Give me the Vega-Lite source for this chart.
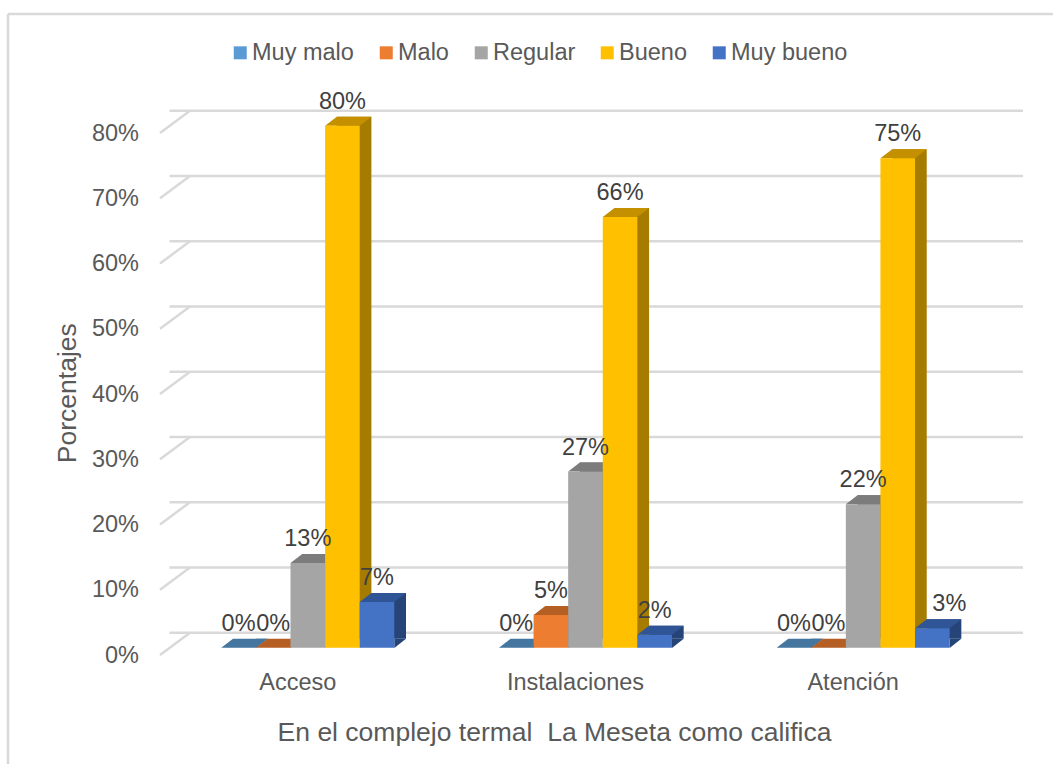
{
"$schema":"https://vega.github.io/schema/vega-lite/v6.json",
"width":833,"height":522,
"autosize":{"type":"none"},
"padding":{"left":169.5,"top":125.7,"right":50.5,"bottom":116.3},
"background":"#ffffff",
"view":{"stroke":null},
"config":{"font":"Liberation Sans"},
"datasets":{
"bars":[
{"grupo":"Acceso","serie":"Muy malo","valor":0},
{"grupo":"Acceso","serie":"Malo","valor":0},
{"grupo":"Acceso","serie":"Regular","valor":13},
{"grupo":"Acceso","serie":"Bueno","valor":80},
{"grupo":"Acceso","serie":"Muy bueno","valor":7},
{"grupo":"Instalaciones","serie":"Muy malo","valor":0},
{"grupo":"Instalaciones","serie":"Malo","valor":5},
{"grupo":"Instalaciones","serie":"Regular","valor":27},
{"grupo":"Instalaciones","serie":"Bueno","valor":66},
{"grupo":"Instalaciones","serie":"Muy bueno","valor":2},
{"grupo":"Atención","serie":"Muy malo","valor":0},
{"grupo":"Atención","serie":"Malo","valor":0},
{"grupo":"Atención","serie":"Regular","valor":22},
{"grupo":"Atención","serie":"Bueno","valor":75},
{"grupo":"Atención","serie":"Muy bueno","valor":3}
],
"ticks":[{"t":0},{"t":10},{"t":20},{"t":30},{"t":40},{"t":50},{"t":60},{"t":70},{"t":80}]
},
"layer":[
{"data":{"values":[{"marco":1}]},"mark":{"type":"rule","stroke":"#d9d9d9","strokeWidth":2.5},
 "encoding":{"x":{"value":-161.5},"y":{"value":-111.7},"y2":{"value":638.3}}},
{"data":{"values":[{"marco":1}]},"mark":{"type":"rule","stroke":"#d9d9d9","strokeWidth":2.5},
 "encoding":{"x":{"value":-161.5},"x2":{"value":883.5},"y":{"value":-111.7}}},
{"data":{"name":"ticks"},
 "mark":{"type":"rule","stroke":"#d9d9d9","strokeWidth":2.5,"xOffset":20.5,"yOffset":-15},
 "encoding":{"y":{"field":"t","type":"quantitative","scale":{"domain":[0,80],"nice":false}}}},
{"data":{"name":"ticks"},
 "mark":{"type":"point","filled":false,"stroke":"#d9d9d9","strokeWidth":2.5,"size":4,"opacity":1,
   "shape":"M-426,7.3 L-396,-15"},
 "encoding":{"y":{"field":"t","type":"quantitative"}}},
{"data":{"name":"bars"},
 "mark":{"type":"bar","yOffset":-9,"y2Offset":-9},
 "encoding":{
  "x":{"field":"grupo","type":"nominal","sort":["Acceso","Instalaciones","Atención"],"scale":{"paddingInner":0,"paddingOuter":0}},
  "xOffset":{"field":"serie","type":"nominal",
    "scale":{"type":"band","domain":["Muy malo","Malo","Regular","Bueno","Muy bueno"],"paddingInner":0,"paddingOuter":0,"range":[63.5,236.5]}},
  "y":{"field":"valor","type":"quantitative"},
  "color":{"field":"serie","type":"nominal","legend":null,
    "scale":{"domain":["Muy malo","Malo","Regular","Bueno","Muy bueno"],"range":["#355d7f","#8e4b1d","#636363","#a67c00","#264478"]}}
 }},
{"data":{"name":"bars"},
 "mark":{"type":"point","filled":true,"size":4,"opacity":1,"shape":"M17.3,0.2 L29,-9 L17.3,-9 Z"},
 "encoding":{
  "x":{"field":"grupo","type":"nominal","sort":["Acceso","Instalaciones","Atención"]},
  "xOffset":{"field":"serie","type":"nominal","scale":{"type":"band","domain":["Muy malo","Malo","Regular","Bueno","Muy bueno"],"paddingInner":0,"paddingOuter":0,"range":[51.8,224.8]}},
  "y":{"datum":0,"type":"quantitative"},
  "fill":{"field":"serie","type":"nominal","legend":null,
    "scale":{"domain":["Muy malo","Malo","Regular","Bueno","Muy bueno"],"range":["#355d7f","#8e4b1d","#636363","#a67c00","#264478"]}}
 }},
{"data":{"name":"bars"},
 "mark":{"type":"point","filled":true,"size":4,"opacity":1,"shape":"M-17.3,0 L-5.6,-9 L29,-9 L17.3,0 Z"},
 "encoding":{
  "x":{"field":"grupo","type":"nominal","sort":["Acceso","Instalaciones","Atención"]},
  "xOffset":{"field":"serie","type":"nominal","scale":{"type":"band","domain":["Muy malo","Malo","Regular","Bueno","Muy bueno"],"paddingInner":0,"paddingOuter":0,"range":[51.8,224.8]}},
  "y":{"field":"valor","type":"quantitative"},
  "fill":{"field":"serie","type":"nominal","legend":null,
    "scale":{"domain":["Muy malo","Malo","Regular","Bueno","Muy bueno"],"range":["#44769f","#b65f24","#7c7c7c","#c49000","#2f5597"]}}
 }},
{"data":{"name":"bars"},
 "mark":{"type":"bar"},
 "encoding":{
  "x":{"field":"grupo","type":"nominal","sort":["Acceso","Instalaciones","Atención"],
   "axis":{"title":"En el complejo termal \u00a0La Meseta como califica","labelAngle":0,"labelAlign":"center","domain":false,"ticks":false,"labelFontSize":23.5,"titleFontSize":26.5,"titleFontWeight":"normal","labelColor":"#595959","titleColor":"#595959","labelOffset":-10.5,"labelPadding":35,"titleX":384.5,"titleY":85,"titleBaseline":"middle","titleAnchor":"middle","titleAlign":"center"}},
  "xOffset":{"field":"serie","type":"nominal","scale":{"type":"band","domain":["Muy malo","Malo","Regular","Bueno","Muy bueno"],"paddingInner":0,"paddingOuter":0,"range":[51.8,224.8]}},
  "y":{"field":"valor","type":"quantitative","scale":{"domain":[0,80],"nice":false},
   "axis":{"title":"Porcentajes","values":[0,10,20,30,40,50,60,70,80],"labelExpr":"datum.value + '%'","grid":false,"domain":false,"ticks":false,"labelFontSize":23.5,"titleFontSize":26.5,"titleFontWeight":"normal","labelColor":"#595959","titleColor":"#595959","labelOffset":7.3,"labelPadding":31,"titleX":-102.5,"titleY":267,"titleBaseline":"middle","titleAlign":"center"}},
  "color":{"field":"serie","type":"nominal","sort":["Muy malo","Malo","Regular","Bueno","Muy bueno"],
   "scale":{"domain":["Muy malo","Malo","Regular","Bueno","Muy bueno"],"range":["#5b9bd5","#ed7d31","#a5a5a5","#ffc000","#4472c4"]},
   "legend":{"orient":"none","legendX":59,"legendY":-85,"direction":"horizontal","title":null,"columns":5,"symbolType":"square","symbolSize":169,"symbolStrokeWidth":0,"labelFontSize":23.5,"labelColor":"#595959","labelOffset":0,"columnPadding":20,"padding":0,"symbolOpacity":1}}
 }},
{"data":{"name":"bars"},
 "transform":[{"filter":"!(datum.grupo === 'Atención' && datum.serie === 'Muy bueno')"},{"calculate":"datum.valor + '%'","as":"etiqueta"}],
 "mark":{"type":"text","fontSize":23.5,"color":"#404040","dy":-24},
 "encoding":{
  "x":{"field":"grupo","type":"nominal","sort":["Acceso","Instalaciones","Atención"]},
  "xOffset":{"field":"serie","type":"nominal","scale":{"type":"band","domain":["Muy malo","Malo","Regular","Bueno","Muy bueno"],"paddingInner":0,"paddingOuter":0,"range":[51.8,224.8]}},
  "y":{"field":"valor","type":"quantitative"},
  "text":{"field":"etiqueta","type":"nominal"}
 }},
{"data":{"name":"bars"},
 "transform":[{"filter":"datum.grupo === 'Atención' && datum.serie === 'Muy bueno'"},{"calculate":"datum.valor + '%'","as":"etiqueta"}],
 "mark":{"type":"text","fontSize":23.5,"color":"#404040","dy":-24,"dx":17},
 "encoding":{
  "x":{"field":"grupo","type":"nominal","sort":["Acceso","Instalaciones","Atención"]},
  "xOffset":{"field":"serie","type":"nominal","scale":{"type":"band","domain":["Muy malo","Malo","Regular","Bueno","Muy bueno"],"paddingInner":0,"paddingOuter":0,"range":[51.8,224.8]}},
  "y":{"field":"valor","type":"quantitative"},
  "text":{"field":"etiqueta","type":"nominal"}
 }}
],
"resolve":{"scale":{"xOffset":"independent","color":"independent","fill":"independent"}}
}
